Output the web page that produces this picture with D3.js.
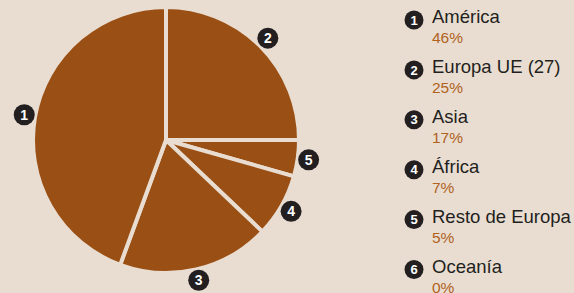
<!DOCTYPE html>
<html>
<head>
<meta charset="utf-8">
<script src="https://cdn.jsdelivr.net/npm/d3@7"></script>
<style>
  body { margin: 0; background: #e9ddd1; }
  svg { display: block; font-family: "Liberation Sans", Arial, sans-serif; }
</style>
</head>
<body>
<div id="chart"></div>
<script>
// DATA ===========================================================================================
const regions = ['América', 'Europa UE (27)', 'Asia', 'África', 'Resto de Europa', 'Oceanía']
const badges = ['1', '2', '3', '4', '5', '6']
const shares = [44.4, 25, 18.5, 7.7, 4.4, 0]      // slice sizes as drawn
const shareLabels = ['46%', '25%', '17%', '7%', '5%', '0%']
const sliceOrder = [1, 4, 3, 2, 0]                // clockwise from 12 o'clock

// SET UP =========================================================================================
const width = 574
const height = 293
const bg = '#e9ddd1'
const brown = '#9a4f14'

const svg = d3.select('#chart')
  .append('svg')
  .attr('width', width)
  .attr('height', height)

svg.append('rect')
  .attr('width', width)
  .attr('height', height)
  .attr('fill', bg)

// PIE ============================================================================================
const cx = 166, cy = 140, radius = 133

const pie = d3.pie()
  .sort(null)
  .value(i => shares[i])

const arcs = pie(sliceOrder)

const arc = d3.arc().innerRadius(0).outerRadius(radius)
const labelArc = d3.arc().innerRadius(144).outerRadius(144)

const g = svg.append('g')
  .attr('transform', `translate(${cx}, ${cy})`)

g.selectAll('path')
  .data(arcs)
  .join('path')
  .attr('d', arc)
  .attr('fill', brown)
  .attr('stroke', bg)
  .attr('stroke-width', 4)
  .attr('stroke-linejoin', 'round')

const marks = g.selectAll('.mark')
  .data(arcs)
  .join('g')
  .attr('class', 'mark')
  .attr('transform', d => `translate(${labelArc.centroid(d)})`)

marks.append('circle')
  .attr('r', 10.5)
  .attr('fill', '#231f20')

marks.append('text')
  .attr('text-anchor', 'middle')
  .attr('dy', '0.36em')
  .attr('fill', '#fff')
  .attr('font-weight', 'bold')
  .attr('font-size', 14)
  .text(d => badges[d.data])

// LEGEND =========================================================================================
const legend = svg.append('g')
  .attr('transform', 'translate(414, 20)')

const rows = legend.selectAll('g')
  .data(regions)
  .join('g')
  .attr('transform', (d, i) => `translate(0, ${i * 49.9})`)

rows.append('circle')
  .attr('r', 9.5)
  .attr('fill', '#231f20')

rows.append('text')
  .attr('text-anchor', 'middle')
  .attr('dy', '0.36em')
  .attr('fill', '#fff')
  .attr('font-weight', 'bold')
  .attr('font-size', 13)
  .text((d, i) => badges[i])

rows.append('text')
  .attr('x', 18)
  .attr('y', 3)
  .attr('font-size', 18.5)
  .attr('fill', '#231f20')
  .text(d => d)

rows.append('text')
  .attr('x', 18)
  .attr('y', 23.3)
  .attr('font-size', 15.5)
  .attr('fill', '#b0621e')
  .text((d, i) => shareLabels[i])
</script>
</body>
</html>
